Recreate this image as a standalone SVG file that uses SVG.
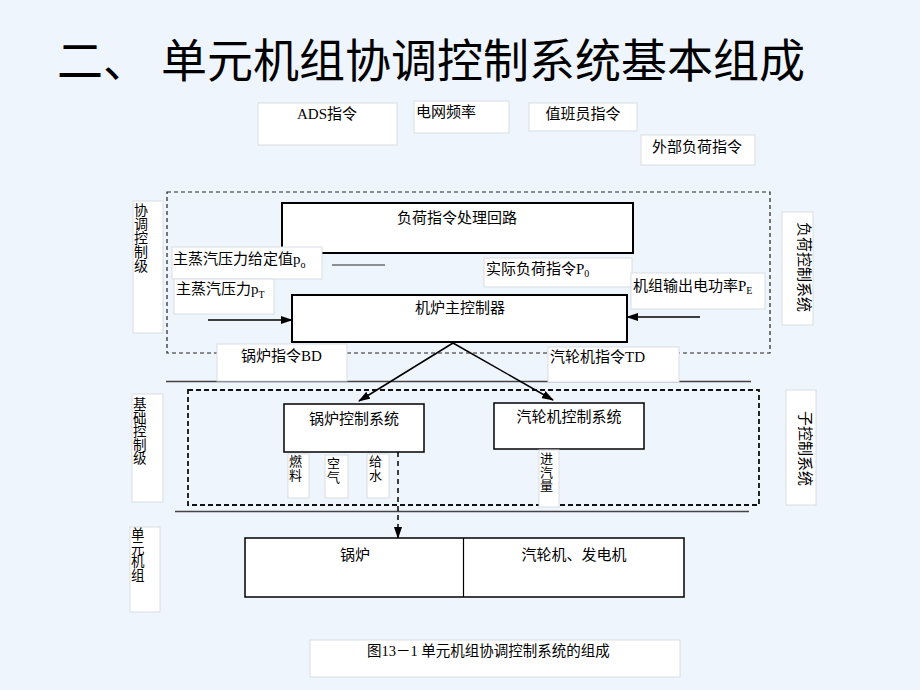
<svg xmlns="http://www.w3.org/2000/svg" width="920" height="690" viewBox="0 0 920 690">
<style>
text{font-family:"Liberation Serif","Noto Sans CJK SC",serif;fill:#000;font-size:15px}
.lb{fill:#fff;stroke:#d9dee4;stroke-width:1}
.box{fill:#fff;stroke:#000;stroke-width:1.5}
.bbox{fill:#fff;stroke:#000;stroke-width:2}
.dash1{fill:none;stroke:#222;stroke-width:1.2;stroke-dasharray:4 3}
.dash2{fill:none;stroke:#111;stroke-width:1.8;stroke-dasharray:5 3}
.sep{stroke:#444;stroke-width:1.5}
.arr{stroke:#000;stroke-width:1.5;fill:none}
.v{font-size:13px}
.sub{font-size:10px}
</style>
<defs>
<marker id="ah" markerUnits="userSpaceOnUse" markerWidth="12" markerHeight="8" refX="11" refY="4" orient="auto">
<path d="M0,0 L12,4 L0,8 z" fill="#000"/>
</marker>
</defs>
<rect width="920" height="690" fill="#eff5fd"/>
<text x="57" y="77" style="font-size:46px">二、<tspan x="161">单元机组协调控制系统基本组成</tspan></text>

<g id="frames">
<rect class="dash1" x="167" y="192" width="603" height="161"/>
<rect class="dash2" x="188" y="390" width="571" height="115"/>
<line class="sep" x1="166" y1="381.5" x2="751" y2="381.5"/>
<line class="sep" x1="175" y1="511.5" x2="749" y2="511.5"/>
</g>

<g id="inputs">
<g id="ads"><rect class="lb" x="258" y="103" width="139" height="42"/><text x="327" y="119" text-anchor="middle">ADS指令</text></g>
<g id="grid"><rect class="lb" x="414" y="101" width="95" height="32"/><text x="416" y="117">电网频率</text></g>
<g id="duty"><rect class="lb" x="529" y="103" width="108" height="28"/><text x="583" y="119" text-anchor="middle">值班员指令</text></g>
<g id="ext"><rect class="lb" x="641" y="135" width="114" height="30"/><text x="652" y="152">外部负荷指令</text></g>
</g>

<g id="levels">
<g id="lv1"><rect class="lb" x="133" y="201" width="30" height="132"/>
<text style="font-size:14px"><tspan x="134" y="215">协</tspan><tspan x="134" y="229">调</tspan><tspan x="134" y="243">控</tspan><tspan x="134" y="257">制</tspan><tspan x="134" y="271">级</tspan></text></g>
<g id="lv2"><rect class="lb" x="132" y="394" width="31" height="108"/>
<text style="font-size:13.5px"><tspan x="133" y="409">基</tspan><tspan x="133" y="422.5">础</tspan><tspan x="133" y="436">控</tspan><tspan x="133" y="449.5">制</tspan><tspan x="133" y="463">级</tspan></text></g>
<g id="lv3"><rect class="lb" x="130" y="527" width="30" height="85"/>
<text style="font-size:13.5px"><tspan x="131" y="539">单</tspan><tspan x="131" y="552.5">元</tspan><tspan x="131" y="566">机</tspan><tspan x="131" y="579.5">组</tspan></text></g>
<g id="r1"><rect class="lb" x="782" y="212" width="31" height="113"/><text transform="translate(799,222) rotate(90)">负荷控制系统</text></g>
<g id="r2"><rect class="lb" x="786" y="390" width="30" height="115"/><text transform="translate(800,411) rotate(90)">子控制系统</text></g>
</g>

<g id="connectors">
<line class="arr" x1="208" y1="320" x2="292" y2="320" marker-end="url(#ah)"/>
<line class="arr" x1="700" y1="317" x2="627" y2="317" marker-end="url(#ah)"/>
<line class="arr" x1="453" y1="343" x2="359" y2="401" marker-end="url(#ah)"/>
<line class="arr" x1="453" y1="343" x2="553" y2="400" marker-end="url(#ah)"/>
<line x1="398" y1="452" x2="398" y2="538" stroke="#000" stroke-width="1.5" stroke-dasharray="5 4" marker-end="url(#ah)"/>
<line x1="332" y1="265" x2="385" y2="265" stroke="#8a8f96" stroke-width="2"/>
</g>

<g id="load"><rect class="bbox" x="282" y="203" width="351" height="50"/><text x="457" y="223" text-anchor="middle">负荷指令处理回路</text></g>
<g id="master"><rect class="bbox" x="292" y="295" width="335" height="47"/><text x="460" y="313" text-anchor="middle">机炉主控制器</text></g>

<g id="p0set"><rect class="lb" x="172" y="247" width="150" height="32"/><text x="173" y="264">主蒸汽压力给定值p<tspan class="sub" dy="4">o</tspan></text></g>
<g id="pT"><rect class="lb" x="174" y="279" width="100" height="35"/><text x="176" y="294">主蒸汽压力p<tspan class="sub" dy="4">T</tspan></text></g>
<g id="P0"><rect class="lb" x="484" y="258" width="148" height="29"/><text x="486" y="274">实际负荷指令P<tspan class="sub" dy="3">0</tspan></text></g>
<g id="PE"><rect class="lb" x="631" y="273" width="134" height="36"/><text x="633" y="291">机组输出电功率P<tspan class="sub" dy="3">E</tspan></text></g>
<g id="BD"><rect class="lb" x="217" y="344" width="130" height="37"/><text x="241" y="361">锅炉指令BD</text></g>
<g id="TD"><rect class="lb" x="548" y="347" width="131" height="35"/><text x="550" y="362">汽轮机指令TD</text></g>

<g id="bcs"><rect class="box" x="284" y="404" width="140" height="48"/><text x="354" y="424" text-anchor="middle">锅炉控制系统</text></g>
<g id="tcs"><rect class="box" x="494" y="403" width="150" height="46"/><text x="569" y="422" text-anchor="middle">汽轮机控制系统</text></g>

<g id="fuel"><rect class="lb" x="288" y="454" width="21" height="44"/><text class="v"><tspan x="289" y="466">燃</tspan><tspan x="289" y="480">料</tspan></text></g>
<g id="air"><rect class="lb" x="325" y="455" width="23" height="43"/><text class="v"><tspan x="327" y="468">空</tspan><tspan x="327" y="482">气</tspan></text></g>
<g id="water"><rect class="lb" x="367" y="454" width="22" height="44"/><text class="v"><tspan x="369" y="466">给</tspan><tspan x="369" y="480">水</tspan></text></g>
<g id="steam"><rect class="lb" x="539" y="450" width="20" height="57"/><text class="v"><tspan x="540" y="463">进</tspan><tspan x="540" y="476.5">汽</tspan><tspan x="540" y="490">量</tspan></text></g>

<g id="plant"><rect class="box" x="245" y="538" width="439" height="59"/><line x1="463.5" y1="538" x2="463.5" y2="597" stroke="#000" stroke-width="1.2"/>
<text x="355" y="560" text-anchor="middle">锅炉</text><text x="574" y="560" text-anchor="middle">汽轮机、发电机</text></g>

<g id="caption"><rect class="lb" x="310" y="640" width="370" height="37"/><text x="367" y="656" style="font-size:14.5px">图13－1 单元机组协调控制系统的组成</text></g>
</svg>
